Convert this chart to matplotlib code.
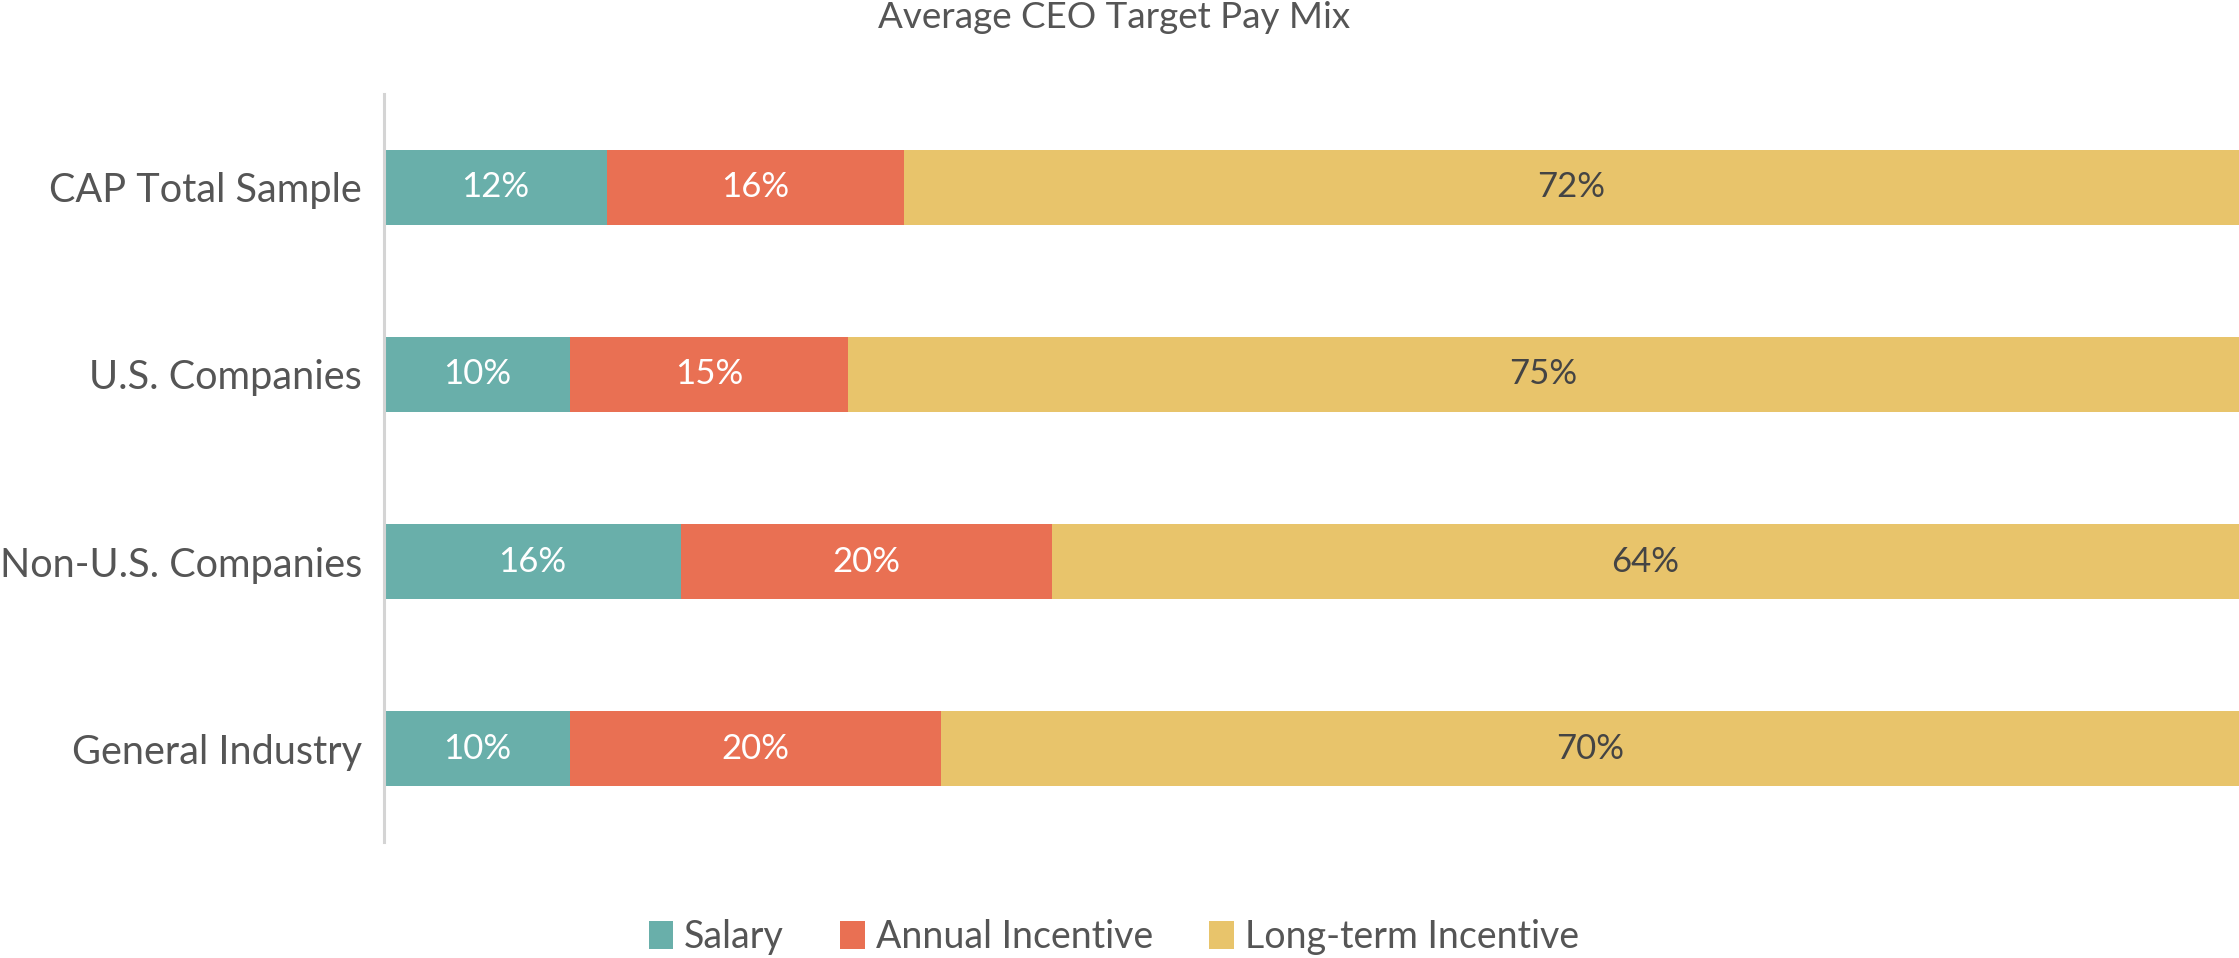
import matplotlib
matplotlib.use("Agg")
import matplotlib.pyplot as plt
import numpy as np

categories = ["CAP Total Sample", "U.S. Companies", "Non-U.S. Companies", "General Industry"]
series_names = ["Salary", "Annual Incentive", "Long-term Incentive"]
salary = [12, 10, 16, 10]
annual = [16, 15, 20, 20]
long_term = [72, 75, 64, 70]

COLORS = ["#69AFAA", "#E97053", "#E8C46B"]
LABEL_COLORS = ["white", "white", "#444444"]
TEXT = "#555555"

plt.rcParams["font.family"] = ["Lato", "DejaVu Sans"]


def create_graph():
    fig = plt.figure(figsize=(22.39, 9.58), dpi=100)
    ax = fig.add_axes([0.1716, 0.121, 0.8284, 0.781])
    y = np.arange(len(categories))
    left = np.zeros(len(categories))
    for name, vals, col, lcol in zip(series_names, [salary, annual, long_term], COLORS, LABEL_COLORS):
        vals = np.array(vals, dtype=float)
        bars = ax.barh(y, vals, left=left, height=0.4, color=col, label=name)
        ax.bar_label(bars, labels=["%d%%" % v for v in vals], label_type="center",
                     color=lcol, fontsize=25)
        left += vals

    ax.set_xlim(0, 100)
    ax.set_ylim(len(categories) - 0.5, -0.5)
    ax.set_yticks(y)
    ax.set_yticklabels(categories, fontsize=28.5, color=TEXT)
    ax.tick_params(axis="y", length=0, pad=16)
    ax.set_xticks([])
    for s in ["top", "right", "bottom"]:
        ax.spines[s].set_visible(False)
    ax.spines["left"].set_color("#d4d4d4")
    ax.spines["left"].set_linewidth(2.2)

    fig.text(0.4975, 0.982, "Average CEO Target Pay Mix", ha="center", va="center",
             fontsize=26.5, color=TEXT)
    fig.legend(loc="center", bbox_to_anchor=(0.4975, 0.022), ncol=3, frameon=False,
               fontsize=27, labelcolor=TEXT, handlelength=0.65, handleheight=0.8,
               handletextpad=0.3, columnspacing=1.5)
    return fig


def save_graph(fig, imageFile):
    fig.savefig(imageFile, dpi=100)


if __name__ == "__main__":
    fig = create_graph()
    save_graph(fig, "out.png")
